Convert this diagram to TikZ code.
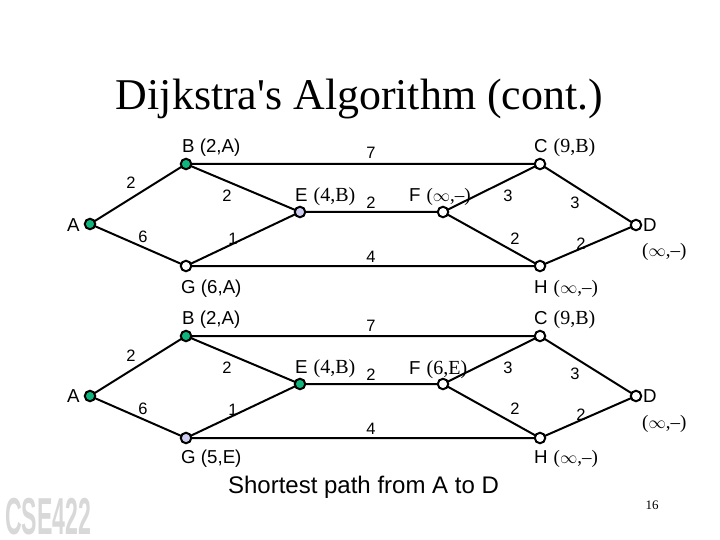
\documentclass[tikz,border=0pt]{standalone}
\usepackage{fontspec}
\setmainfont{Liberation Serif}
\setsansfont{Liberation Sans}
\newfontfamily\titlefont{Liberation Serif}
\definecolor{visited}{HTML}{0FB47F}
\definecolor{current}{HTML}{CCCCF0}
\definecolor{logogray}{HTML}{D8D8D8}
\newcommand{\Sf}[1]{{\sffamily #1}}
\newcommand{\Sr}[1]{{\fontsize{20}{20}\selectfont\hspace{6pt}(#1)}}
\newcommand{\Si}{{\fontsize{19}{19}\selectfont\hspace{6pt}($\infty$,--)}}
\tikzset{
  x=1pt,y=-1pt,
  vtx/.style={circle,draw=black,line width=2pt,minimum size=10.5pt,inner sep=0pt,fill=white},
  done/.style={vtx,fill=visited},
  cur/.style={vtx,fill=current},
  edge/.style={line width=2pt,black},
  lab/.style={inner sep=0pt,anchor=base west,font=\fontsize{18.7}{18.7}\selectfont},
  wt/.style={inner sep=0pt,anchor=base,font=\sffamily\fontsize{16.5}{16.5}\selectfont},
}
\begin{document}
\begin{tikzpicture}
\useasboundingbox (0,0) rectangle (720,540);
\node[inner sep=0pt,anchor=base] (title) at (359.5,110) {\titlefont\fontsize{43.9}{43.9}\selectfont Dijkstra's Algorithm (cont.)};
% top graph
\coordinate (a1) at (90,224); \coordinate (b1) at (186,164);
\coordinate (e1) at (300,212); \coordinate (g1) at (186,266); \coordinate (f1) at (443,212);
\coordinate (c1) at (540,164); \coordinate (h1) at (540,266); \coordinate (d1) at (636,225);
\draw[edge] (a1)--(b1) (a1)--(g1) (b1)--(e1) (g1)--(e1) (b1)--(c1) (e1)--(f1) (g1)--(h1) (f1)--(c1) (f1)--(h1) (c1)--(d1) (h1)--(d1);
\node[done] (A1) at (a1) {}; \node[done] (B1) at (b1) {}; \node[cur] (E1) at (e1) {};
\node[vtx] (G1) at (g1) {}; \node[vtx] (F1) at (f1) {}; \node[vtx] (C1) at (c1) {};
\node[vtx] (H1) at (h1) {}; \node[vtx] (D1) at (d1) {};
% bottom graph
\coordinate (a2) at (90,396); \coordinate (b2) at (186,336); \coordinate (e2) at (300,384);
\coordinate (g2) at (186,438); \coordinate (f2) at (443,384); \coordinate (c2) at (540,336);
\coordinate (h2) at (540,438); \coordinate (d2) at (636,396);
\draw[edge] (a2)--(b2) (a2)--(g2) (b2)--(e2) (g2)--(e2) (b2)--(c2) (e2)--(f2) (g2)--(h2) (f2)--(c2) (f2)--(h2) (c2)--(d2) (h2)--(d2);
\node[done] (A2) at (a2) {}; \node[done] (B2) at (b2) {}; \node[done] (E2) at (e2) {};
\node[cur] (G2) at (g2) {}; \node[vtx] (F2) at (f2) {}; \node[vtx] (C2) at (c2) {};
\node[vtx] (H2) at (h2) {}; \node[vtx] (D2) at (d2) {};
% labels top
\node[lab] (la1) at (67,231) {\Sf{A}};
\node[lab] (lb1) at (182,153) {\Sf{B (2,A)}};
\node[lab] (lc1) at (534,153) {\Sf{C}\Sr{9,B}};
\node[lab] (le1) at (295,202) {\Sf{E}\Sr{4,B}};
\node[lab] (lf1) at (409,202) {\Sf{F}\Si};
\node[lab] (lg1) at (181,293) {\Sf{G (6,A)}};
\node[lab] (lh1) at (534,293) {\Sf{H}\Si};
\node[lab] (ld1) at (643,231) {\Sf{D}};
\node[lab] (ldd1) at (642,256) {\fontsize{19}{19}\selectfont($\infty$,--)};
\foreach \x/\y/\t/\n in {131/189/2/a,227/202/2/b,143/243/6/c,233/244/1/d,371/159/7/e,371/208/2/f,371/262/4/g,508/202/3/h,575/208/3/i,515/244/2/j,581/249/2/k}
  \node[wt] (w1\n) at (\x,\y) {\t};
% labels bottom
\node[lab] (la2) at (67,402) {\Sf{A}};
\node[lab] (lb2) at (182,324) {\Sf{B (2,A)}};
\node[lab] (lc2) at (534,324) {\Sf{C}\Sr{9,B}};
\node[lab] (le2) at (295,373) {\Sf{E}\Sr{4,B}};
\node[lab] (lf2) at (409,374) {\Sf{F}\Sr{6,E}};
\node[lab] (lg2) at (181,463) {\Sf{G (5,E)}};
\node[lab] (lh2) at (534,463) {\Sf{H}\Si};
\node[lab] (ld2) at (643,402) {\Sf{D}};
\node[lab] (ldd2) at (642,428) {\fontsize{19}{19}\selectfont($\infty$,--)};
\foreach \x/\y/\t/\n in {131/361/2/a,227/373/2/b,143/414/6/c,233/415/1/d,371/331/7/e,371/380/2/f,371/434/4/g,508/373/3/h,575/379/3/i,515/414/2/j,581/420/2/k}
  \node[wt] (w2\n) at (\x,\y) {\t};
\node[inner sep=0pt,anchor=base] (sp) at (363.5,493) {\sffamily\fontsize{24}{24}\selectfont Shortest path from A to D};
\node[inner sep=0pt,anchor=base] (pg) at (652,509) {\fontsize{13}{13}\selectfont 16};
\node[inner sep=0pt,anchor=base west,text=logogray,xscale=0.445,yscale=1] (logo) at (5,534) {\sffamily\bfseries\fontsize{52}{52}\selectfont CSE422};
\end{tikzpicture}
\end{document}
